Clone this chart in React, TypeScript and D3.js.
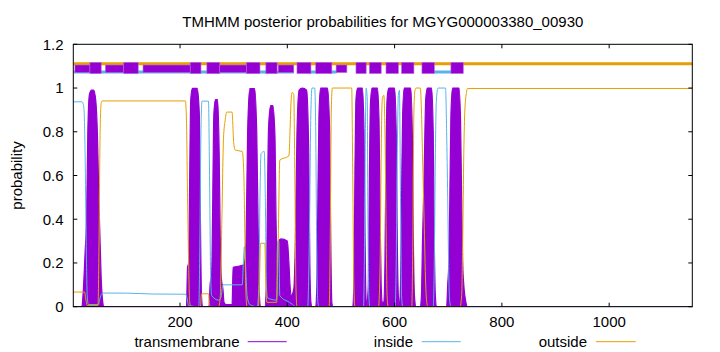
import React from "react";
import * as d3 from "d3";

const title = "TMHMM posterior probabilities for MGYG000003380_00930";
const seqLength = 1155;
const xTicks = [200, 400, 600, 800, 1000];
const yTicks = [0, 0.2, 0.4, 0.6, 0.8, 1, 1.2];
const yLabel = "probability";
const legendLabels = ["transmembrane", "inside", "outside"];
const colors = { tm: "#9400d3", inside: "#56b4e9", outside: "#e69f00" };

type P = [number, number];

const transmembrane: P[] = [
  [1, 0], [17, 0], [19, 0.05], [23, 0.25], [26, 0.43], [28, 0.79], [31, 0.97], [35, 0.99], [39, 0.99], [43, 0.94], [46, 0.79], [49, 0.46], [53, 0.13], [56, 0.02], [58, 0],
  [212, 0], [214, 0.18], [216, 0.2], [218, 0.6], [220, 0.95], [223, 0.998], [232, 0.998], [236, 0.88], [238, 0.4], [240, 0.05], [242, 0],
  [254, 0], [256, 0.1], [259, 0.15], [261, 0.5], [263, 0.88], [266, 0.947], [270, 0.947], [273, 0.7], [275, 0.3], [277, 0.13], [280, 0.08], [282, 0.02], [286, 0.01], [297, 0.01], [299, 0.18], [318, 0.19],
  [320, 0.2], [323, 0.3], [326, 0.8], [330, 0.997], [339, 0.997], [343, 0.8], [346, 0.3], [348, 0.05], [350, 0],
  [358, 0], [361, 0.1], [363, 0.5], [365, 0.82], [369, 0.92], [373, 0.92], [377, 0.78], [379, 0.4], [381, 0.15], [383, 0.05], [384, 0.3], [388, 0.31], [400, 0.3], [403, 0.2], [405, 0.1], [407, 0.05], [412, 0.08],
  [415, 0.3], [418, 0.8], [422, 0.99], [428, 1.0], [436, 0.99], [440, 0.7], [442, 0.2], [444, 0.02], [446, 0],
  [453, 0], [455, 0.1], [457, 0.5], [459, 0.88], [462, 1.0], [475, 1.0], [479, 0.8], [481, 0.3], [483, 0.02], [485, 0],
  [522, 0], [524, 0.1], [526, 0.6], [528, 0.95], [531, 1.0], [540, 1.0], [543, 0.8], [545, 0.3], [546, 0.1], [548, 0], [550, 0.05],
  [551, 0.1], [553, 0.6], [555, 0.93], [558, 1.0], [568, 1.0], [571, 0.85], [573, 0.4], [575, 0.1], [577, 0.02], [580, 0.02],
  [582, 0.2], [584, 0.7], [586, 0.95], [589, 1.0], [600, 1.0], [603, 0.8], [605, 0.3], [607, 0.05], [609, 0.0],
  [611, 0.1], [613, 0.5], [615, 0.88], [618, 1.0], [630, 1.0], [633, 0.8], [635, 0.3], [637, 0.05], [640, 0],
  [648, 0], [650, 0.05], [652, 0.3], [655, 0.6], [658, 0.95], [661, 1.0], [669, 1.0], [672, 0.8], [674, 0.3], [676, 0.05], [678, 0],
  [697, 0], [699, 0.1], [701, 0.2], [703, 0.5], [705, 0.88], [708, 1.0], [720, 1.0], [723, 0.85], [725, 0.5], [727, 0.2], [729, 0.1], [731, 0.05], [733, 0.02], [735, 0],
  [1155, 0],
];

const inside: P[] = [
  [1, 0.937], [17, 0.937], [19, 0.93], [21, 0.9], [23, 0.7], [25, 0.3], [27, 0.05], [29, 0.01], [48, 0.01], [50, 0.03], [53, 0.055], [56, 0.0625],
  [100, 0.062], [150, 0.058], [210, 0.057], [213, 0.04], [216, 0.005], [235, 0.0],
  [237, 0.3], [239, 0.8], [241, 0.94], [253, 0.94], [255, 0.6], [257, 0.15], [259, 0.05], [272, 0.03], [276, 0.04], [280, 0.1], [316, 0.1], [318, 0.2], [320, 0.275], [322, 0.2], [325, 0.05], [330, 0.01], [344, 0.0],
  [347, 0.1], [349, 0.5], [351, 0.7], [357, 0.71], [359, 0.5], [361, 0.1], [363, 0.04], [380, 0.03], [382, 0.3], [384, 0.3], [386, 0.05], [404, 0.02], [410, 0.01], [415, 0],
  [438, 0], [441, 0.3], [444, 0.9], [446, 1.0], [451, 1.0], [453, 0.8], [455, 0.2], [457, 0.02], [459, 0],
  [542, 0], [544, 0.3], [546, 0.9], [547, 1.0], [549, 0.95], [550, 0.5], [552, 0.05], [554, 0],
  [601, 0], [603, 0.2], [605, 0.7], [607, 0.97], [609, 0.99], [611, 0.5], [613, 0.05], [615, 0],
  [672, 0], [674, 0.2], [676, 0.7], [678, 0.95], [681, 1.0], [695, 1.0], [697, 0.8], [699, 0.5], [701, 0.15], [703, 0.02], [705, 0],
  [1155, 0],
];

const outside: P[] = [
  [1, 0.067], [22, 0.067], [24, 0.04], [27, 0.005], [47, 0.005], [49, 0.3], [51, 0.8], [53, 0.93], [55, 0.941],
  [210, 0.941], [212, 0.85], [214, 0.5], [216, 0.2], [218, 0.02], [220, 0], [238, 0], [240, 0.059], [253, 0.059], [255, 0.01], [258, 0],
  [272, 0], [275, 0.05], [278, 0.4], [281, 0.77], [284, 0.85], [287, 0.89], [297, 0.89], [300, 0.75], [303, 0.716], [316, 0.71], [319, 0.6], [321, 0.3], [323, 0.05], [325, 0],
  [346, 0], [348, 0.1], [350, 0.29], [358, 0.29], [360, 0.1], [362, 0.02], [380, 0.02], [383, 0.3], [386, 0.67], [403, 0.69], [405, 0.8], [407, 0.94], [409, 0.98], [412, 0.97], [414, 0.6], [416, 0.1], [418, 0],
  [478, 0], [480, 0.3], [482, 0.9], [484, 1.0], [520, 1.0], [522, 0.6], [524, 0.1], [526, 0],
  [570, 0], [573, 0.2], [575, 0.7], [577, 0.95], [580, 0.967], [582, 0.8], [584, 0.4], [586, 0.05], [588, 0],
  [632, 0], [634, 0.3], [636, 0.9], [638, 0.99], [640, 1.0], [648, 1.0], [650, 0.9], [652, 0.7], [655, 0.4], [658, 0.1], [660, 0.02], [662, 0],
  [722, 0], [725, 0.05], [727, 0.3], [729, 0.7], [731, 0.9], [734, 0.98], [736, 0.998], [1155, 0.998],
];

// predicted topology band at the top: [start, end, kind] (f = full, m = medium)
const tmBoxes: [number, number, string][] = [
  [4, 32, "m"], [32, 53, "f"], [61, 95, "m"], [95, 122, "f"], [131, 219, "m"], [219, 239, "f"],
  [250, 274, "f"], [274, 324, "m"], [324, 349, "f"], [360, 381, "f"], [383, 412, "m"], [418, 444, "f"],
  [453, 483, "f"], [491, 511, "m"], [528, 547, "f"], [553, 575, "f"], [584, 607, "f"], [613, 636, "f"],
  [651, 674, "f"], [705, 728, "f"],
];
const insideBand: [number, number][] = [[1, 412], [440, 459], [479, 492], [673, 705]];
const outsideBand: [number, number][] = [[1, 1155]];

const W = 720, H = 352;
const L = 73.3, R = 692.3, T = 44.3, B = 306.7;
const FONT = "'Liberation Sans', Arial, sans-serif";

export default function App() {
  const x = d3.scaleLinear().domain([1, seqLength]).range([L, R]);
  const y = d3.scaleLinear().domain([0, 1.2]).range([B, T]);
  const area = d3.area<P>().x((d) => x(d[0])).y0(y(0)).y1((d) => y(d[1])).curve(d3.curveMonotoneX);
  const line = d3.line<P>().x((d) => x(d[0])).y((d) => y(d[1])).curve(d3.curveMonotoneX);

  const boxY = (k: string) => (k === "f" ? [1.1167, 1.0665] : [1.1053, 1.071]);

  const legendItems = [
    { label: legendLabels[0], textX: 239.5, lx: [247.7, 286.7], color: colors.tm },
    { label: legendLabels[1], textX: 413, lx: [421.7, 460.7], color: colors.inside },
    { label: legendLabels[2], textX: 587, lx: [596, 635.7], color: colors.outside },
  ];

  return (
    <svg width={W} height={H} style={{ position: "absolute", left: 0, top: 0, background: "#fff" }} fontFamily={FONT}>
      <rect x={0} y={0} width={W} height={H} fill="#fff" />
      <defs>
        <clipPath id="plotclip">
          <rect x={L} y={T} width={R - L} height={B - T} />
        </clipPath>
      </defs>
      <g clipPath="url(#plotclip)">
        <path d={area(transmembrane) || ""} fill={colors.tm} stroke={colors.tm} strokeWidth={1.2} />
        <path d={line(inside) || ""} fill="none" stroke={colors.inside} strokeWidth={1} />
        <path d={line(outside) || ""} fill="none" stroke={colors.outside} strokeWidth={1} />
        {outsideBand.map(([s, e], i) => (
          <line key={"ob" + i} x1={x(s)} x2={x(e)} y1={y(1.111)} y2={y(1.111)} stroke={colors.outside} strokeWidth={3} />
        ))}
        {insideBand.map(([s, e], i) => (
          <line key={"ib" + i} x1={x(s)} x2={x(e)} y1={y(1.073)} y2={y(1.073)} stroke={colors.inside} strokeWidth={3} />
        ))}
        {tmBoxes.map(([s, e, k], i) => {
          const [t, b] = boxY(k);
          return (
            <rect key={"tb" + i} x={x(s)} width={x(e) - x(s)} y={y(t)} height={y(b) - y(t)} fill={colors.tm} stroke="#b860e0" strokeWidth={0.6} />
          );
        })}
      </g>
      <rect x={L} y={T} width={R - L} height={B - T} fill="none" stroke="#000" strokeWidth={1} />
      {yTicks.map((t) => (
        <g key={"y" + t}>
          <line x1={L} x2={L + 4} y1={y(t)} y2={y(t)} stroke="#000" />
          <line x1={R} x2={R - 4} y1={y(t)} y2={y(t)} stroke="#000" />
          <text x={63.5} y={y(t)} dy="0.36em" textAnchor="end" fontSize={15} fill="#000">
            {d3.format("~g")(t)}
          </text>
        </g>
      ))}
      {xTicks.map((t) => (
        <g key={"x" + t}>
          <line x1={x(t)} x2={x(t)} y1={B} y2={B - 4} stroke="#000" />
          <line x1={x(t)} x2={x(t)} y1={T} y2={T + 4} stroke="#000" />
          <text x={x(t)} y={326.8} textAnchor="middle" fontSize={15} fill="#000">
            {t}
          </text>
        </g>
      ))}
      <text x={(L + R) / 2} y={26.5} textAnchor="middle" fontSize={15} fill="#000">
        {title}
      </text>
      <text transform={`translate(22, ${(T + B) / 2}) rotate(-90)`} textAnchor="middle" fontSize={15} fill="#000">
        {yLabel}
      </text>
      {legendItems.map((it) => (
        <g key={it.label}>
          <text x={it.textX} y={346.5} textAnchor="end" fontSize={15} fill="#000">
            {it.label}
          </text>
          <line x1={it.lx[0]} x2={it.lx[1]} y1={341.7} y2={341.7} stroke={it.color} strokeWidth={1} />
        </g>
      ))}
    </svg>
  );
}
